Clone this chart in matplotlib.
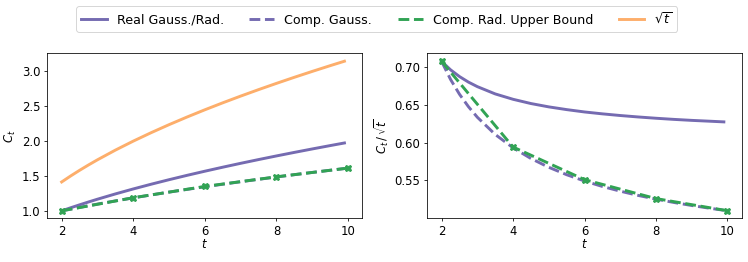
import numpy as np
import matplotlib
matplotlib.use("Agg")
import matplotlib.pyplot as plt

# smooth-curve sample points
t_fine = [2.0, 2.25, 2.5, 2.75, 3.0, 3.5, 4.0, 4.5, 5.0, 5.5, 6.0, 6.5, 7.0, 7.5,
          8.0, 8.5, 9.0, 9.5, 9.9]
# left panel: C_t
real_ct = [1.000, 1.0438, 1.0862, 1.1272, 1.1669, 1.2425, 1.314, 1.3819, 1.4467, 1.5088,
           1.5684, 1.6260, 1.6816, 1.7353, 1.7875, 1.8383, 1.8877, 1.9358, 1.9735]
comp_gauss_ct = [1.000, 1.0248, 1.0494, 1.0734, 1.0969, 1.1423, 1.186, 1.2280, 1.2685, 1.3075,
                 1.3453, 1.3818, 1.4176, 1.4520, 1.4858, 1.5187, 1.5507, 1.5821, 1.6066]
sqrt_t = [1.4142, 1.5, 1.5811, 1.6583, 1.7321, 1.8708, 2.0, 2.1213, 2.2361, 2.3452,
          2.4495, 2.5495, 2.6458, 2.7386, 2.8284, 2.9155, 3.0, 3.0822, 3.1464]
# right panel: C_t / sqrt(t)
real_ratio = [0.707, 0.6959, 0.687, 0.6797, 0.6737, 0.6641, 0.657, 0.6514, 0.647, 0.6434,
              0.6403, 0.6378, 0.6356, 0.6337, 0.632, 0.6305, 0.6292, 0.6281, 0.6272]
comp_gauss_ratio = [0.707, 0.6832, 0.6637, 0.6473, 0.6333, 0.6106, 0.593, 0.5789, 0.5673,
                    0.5575, 0.5492, 0.5420, 0.5358, 0.5302, 0.5253, 0.5209, 0.5169, 0.5133,
                    0.5106]
# marker points
t_pts = [2, 4, 6, 8, 10]
comp_rad_ct = [1.000, 1.188, 1.350, 1.488, 1.613]
comp_rad_ratio = [0.707, 0.594, 0.551, 0.526, 0.510]

PURPLE = '#756bb1'
GREEN = '#31a354'
ORANGE = '#fdae6b'
LW = 3

DPI = 70
plt.rcParams['font.size'] = 12
fig = plt.figure(figsize=(748 / DPI, 262 / DPI), dpi=DPI)
ax1 = fig.add_axes([0.0633, 0.1668, 0.4211, 0.6298])
ax2 = fig.add_axes([0.5713, 0.1668, 0.4203, 0.6298])

# left
ax1.plot(t_fine, real_ct, color=PURPLE, lw=LW, label='Real Gauss./Rad.')
ax1.plot(t_fine, comp_gauss_ct, color=PURPLE, lw=LW, ls='--', label='Comp. Gauss.')
ax1.plot(t_pts, comp_rad_ct, color=GREEN, lw=LW, ls='--', label='Comp. Rad. Upper Bound')
ax1.plot(t_pts, comp_rad_ct, color=GREEN, lw=0, marker='X', ms=7)
ax1.plot(t_fine, sqrt_t, color=ORANGE, lw=LW, label=r'$\sqrt{t}$')
ax1.set_xlabel('$t$', labelpad=0)
ax1.set_ylabel('$C_t$')

# right
ax2.plot(t_fine, real_ratio, color=PURPLE, lw=LW)
ax2.plot(t_fine, comp_gauss_ratio, color=PURPLE, lw=LW, ls='--')
ax2.plot(t_pts, comp_rad_ratio, color=GREEN, lw=LW, ls='--')
ax2.plot(t_pts, comp_rad_ratio, color=GREEN, lw=0, marker='X', ms=7)
ax2.set_xlabel('$t$', labelpad=0)
ax2.set_ylabel(r'$C_t\,/\,\sqrt{t}$')

for ax in (ax1, ax2):
    ax.set_xticks([2, 4, 6, 8, 10])
    ax.set_xlim(1.6, 10.4)
ax1.set_ylim(0.893, 3.26)
ax2.set_ylim(0.500, 0.7177)
ax1.set_yticks([1.0, 1.5, 2.0, 2.5, 3.0])
ax2.set_yticks([0.55, 0.60, 0.65, 0.70])

h, l = ax1.get_legend_handles_labels()
fig.legend(h, l, loc='upper center', bbox_to_anchor=(0.5036, 1.0), ncol=4,
           frameon=True, fontsize=13)

fig.savefig('out.png', dpi=DPI)
